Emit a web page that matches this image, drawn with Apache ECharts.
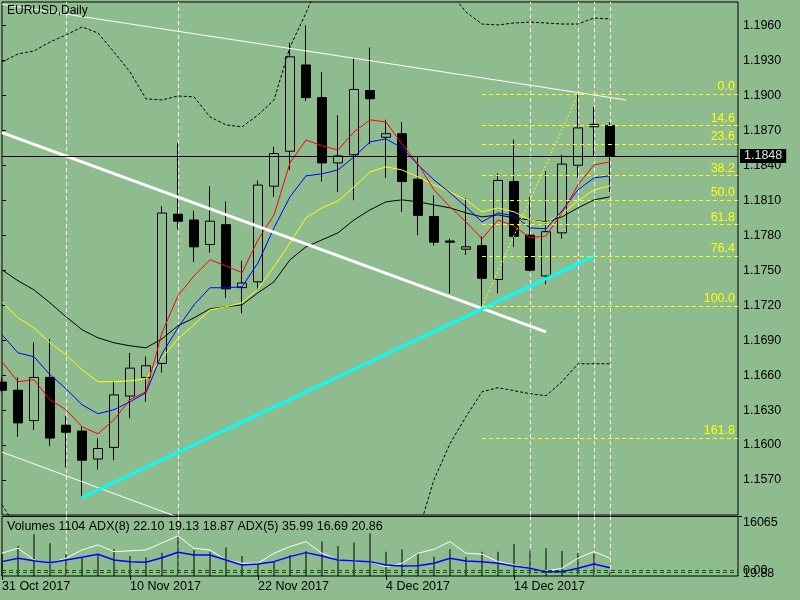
<!DOCTYPE html>
<html>
<head>
<meta charset="utf-8">
<script src="https://cdn.jsdelivr.net/npm/echarts@6/dist/echarts.min.js"></script>
<style>html,body{margin:0;padding:0;background:#8FBC8F;}#c{width:800px;height:600px;}</style>
</head>
<body>
<div id="c"></div>
<script>
const dates = ['31 Oct 2017','1 Nov 2017','2 Nov 2017','3 Nov 2017','6 Nov 2017','7 Nov 2017','8 Nov 2017','9 Nov 2017','10 Nov 2017','13 Nov 2017','14 Nov 2017','15 Nov 2017','16 Nov 2017','17 Nov 2017','20 Nov 2017','21 Nov 2017','22 Nov 2017','23 Nov 2017','24 Nov 2017','27 Nov 2017','28 Nov 2017','29 Nov 2017','30 Nov 2017','1 Dec 2017','4 Dec 2017','5 Dec 2017','6 Dec 2017','7 Dec 2017','8 Dec 2017','11 Dec 2017','12 Dec 2017','13 Dec 2017','14 Dec 2017','15 Dec 2017','18 Dec 2017','19 Dec 2017','20 Dec 2017','21 Dec 2017','22 Dec 2017','25 Dec 2017','26 Dec 2017','27 Dec 2017','28 Dec 2017','29 Dec 2017','1 Jan 2018','2 Jan 2018','3 Jan 2018'];
const dateLabelIdx = [0, 8, 16, 24, 32];
const vLineIdx = [4, 11, 33, 36, 37, 38];

const opens  = [1.1654,1.1647,1.1621,1.1658,1.1617,1.1612,1.1588,1.1598,1.1642,1.1658,1.1670,1.1798,1.1793,1.1772,1.1789,1.1735,1.1740,1.1822,1.1852,1.1926,1.1898,1.1842,1.1849,1.1904,1.1864,1.1867,1.1828,1.1796,1.1775,1.1768,1.1771,1.1742,1.1826,1.1780,1.1745,1.1782,1.1840,1.1873,1.1874];
const closes = [1.1647,1.1619,1.1658,1.1606,1.1611,1.1587,1.1597,1.1643,1.1666,1.1668,1.1799,1.1792,1.1770,1.1792,1.1734,1.1739,1.1823,1.1850,1.1933,1.1898,1.1842,1.1848,1.1905,1.1897,1.1867,1.1826,1.1797,1.1774,1.1774,1.1770,1.1743,1.1827,1.1779,1.1750,1.1783,1.1841,1.1872,1.1875,1.1848];
const lows   = [1.1645,1.1607,1.1613,1.1599,1.1581,1.1556,1.1579,1.1587,1.1623,1.1637,1.1662,1.1785,1.1757,1.1765,1.1726,1.1713,1.1733,1.1813,1.1836,1.1895,1.1826,1.1817,1.1810,1.1858,1.1829,1.1800,1.1780,1.1771,1.1730,1.1763,1.1718,1.1730,1.1770,1.1749,1.1738,1.1777,1.1829,1.1848,1.1817];
const highs  = [1.1658,1.1658,1.1688,1.1691,1.1625,1.1616,1.1606,1.1655,1.1679,1.1676,1.1805,1.1859,1.1801,1.1822,1.1809,1.1758,1.1827,1.1856,1.1945,1.1960,1.1920,1.1883,1.1932,1.1941,1.1879,1.1877,1.1847,1.1814,1.1777,1.1812,1.1779,1.1833,1.1862,1.1813,1.1835,1.1849,1.1901,1.1890,1.1877];

const maRed    = [1.16714,1.16543,1.16560,1.16389,1.16303,1.16157,1.16097,1.16217,1.16389,1.16457,1.16963,1.17280,1.17451,1.17589,1.17537,1.17477,1.17760,1.17974,1.18420,1.18617,1.18566,1.18531,1.18686,1.18789,1.18771,1.18583,1.18411,1.18189,1.18043,1.17914,1.17769,1.17931,1.17880,1.17777,1.17794,1.17991,1.18231,1.18403,1.18429];
const maBlue   = [1.16946,1.16791,1.16757,1.16603,1.16483,1.16346,1.16269,1.16303,1.16371,1.16449,1.16783,1.17006,1.17203,1.17349,1.17349,1.17357,1.17563,1.17863,1.18129,1.18309,1.18326,1.18360,1.18471,1.18600,1.18626,1.18549,1.18403,1.18274,1.18163,1.18043,1.17914,1.17991,1.17966,1.17863,1.17854,1.18009,1.18189,1.18291,1.18309];
const maYellow = [1.17229,1.17091,1.17006,1.16877,1.16774,1.16646,1.16543,1.16543,1.16551,1.16569,1.16749,1.16911,1.17031,1.17160,1.17186,1.17220,1.17340,1.17529,1.17734,1.17949,1.18034,1.18094,1.18214,1.18343,1.18386,1.18360,1.18300,1.18231,1.18171,1.18103,1.18000,1.18034,1.18000,1.17931,1.17906,1.17983,1.18094,1.18189,1.18223];
const maBlack  = [1.17503,1.17409,1.17331,1.17220,1.17100,1.16989,1.16920,1.16877,1.16851,1.16834,1.16911,1.17023,1.17091,1.17169,1.17186,1.17203,1.17306,1.17400,1.17589,1.17700,1.17760,1.17820,1.17931,1.18017,1.18086,1.18103,1.18086,1.18060,1.18034,1.17991,1.17957,1.17974,1.17949,1.17931,1.17914,1.17957,1.18034,1.18103,1.18129];
const bbUpper  = [1.19286,1.19354,1.19380,1.19457,1.19517,1.19586,1.19534,1.19371,1.19200,1.18969,1.18960,1.18994,1.18986,1.18814,1.18746,1.18729,1.18831,1.18960,1.19414,1.19706,1.20031,1.20203,1.20331,1.20417,1.20374,1.20288,1.20160,1.20006,1.19886,1.19714,1.19611,1.19603,1.19620,1.19628,1.19620,1.19611,1.19611,1.19663,1.19654];
const bbLower  = [1.15489,1.15274,1.15103,1.14974,1.14846,1.14674,1.14572,1.14546,1.14572,1.14632,1.14760,1.14863,1.14932,1.14974,1.14974,1.14932,1.14863,1.14760,1.14589,1.14332,1.14160,1.14092,1.14117,1.14246,1.14460,1.14803,1.15249,1.15703,1.16012,1.16243,1.16457,1.16492,1.16466,1.16440,1.16423,1.16543,1.16697,1.16697,1.16697];

const volumes  = [6000,8130,11300,8860,5960,5070,5960,7230,5420,5070,6310,10650,7040,6580,7670,5420,3520,4060,5690,6770,9290,8130,9020,11570,6580,7230,6150,5230,7230,5230,6580,6580,8670,6850,7500,6770,6310,6150,1104];
const adxWhite = [43.3,50.6,33.5,28.6,36.0,48.1,55.5,45.7,46.8,48.1,58.4,68.7,50.6,48.1,33.5,28.6,28.6,43.3,53.0,60.3,43.3,33.5,31.0,31.0,23.6,28.6,43.3,49.2,60.3,43.3,41.8,31.0,26.1,21.3,17.3,21.3,36.0,45.7,35.99];
const adxBlue  = [31.0,36.0,32.4,29.5,33.5,37.4,41.8,33.5,31.0,30.1,36.8,44.8,40.8,40.8,33.5,26.1,27.6,31.0,38.3,44.2,39.3,33.5,32.0,31.0,26.1,24.7,25.1,28.6,36.0,32.0,31.0,28.6,24.7,21.3,16.3,16.3,21.3,27.6,22.10];
const adxLevels = [18, 15];

const trendTop   = [[0, 1.1978], [39, 1.1896]];
const trendThick = [[0, 1.1868], [34, 1.1697]];
const trendLow   = [[0, 1.1594], [12, 1.1533]];
const trendCyan  = [[5, 1.1555], [37, 1.1762]];
const fibDiag    = [[30, 1.1719], [36, 1.1901]];
const fibNames   = ['0.0','14.6','23.6','38.2','50.0','61.8','76.4','100.0','161.8'];
const fibPrices  = [1.1901,1.1874,1.1858,1.1831,1.1810,1.1789,1.1762,1.1719,1.1606];
const fibStart = 30, fibEnd = 46;
const lastClose = 1.1848;
const chartTitle = 'EURUSD,Daily';
const indLabel = 'Volumes 1104 ADX(8) 22.10 19.13 18.87 ADX(5) 35.99 16.69 20.86';

const FONT = 'Liberation Sans';
const BG = '#8FBC8F';
const chart = echarts.init(document.getElementById('c'));
const candleData = opens.map((o, i) => [o, closes[i], lows[i], highs[i]]);

function maLine(data, color, dash) {
  return {type: 'line', data, xAxisIndex: 0, yAxisIndex: 0, symbol: 'none', silent: true, z: 3,
    lineStyle: {color, width: 1, type: dash || 'solid'}};
}
function trend(data, color, width) {
  return {type: 'line', data, xAxisIndex: 2, yAxisIndex: 0, symbol: 'none', silent: true, z: 4,
    lineStyle: {color, width}};
}
const vStyle = {color: '#ffffff', width: 1, type: [4, 3]};

const option = {
  backgroundColor: BG,
  animation: false,
  textStyle: {fontFamily: FONT},
  title: [
    {text: chartTitle, left: 7, top: 5, padding: 0, textStyle: {fontSize: 12, fontWeight: 'normal', color: '#000', fontFamily: FONT}},
    {text: indLabel, left: 7, top: 520, padding: 0, textStyle: {fontSize: 12.5, fontWeight: 'normal', color: '#000', fontFamily: FONT}}
  ],
  grid: [
    {left: 2, top: 2, width: 736, height: 513, show: true, borderColor: '#000', borderWidth: 1, backgroundColor: 'transparent', outerBoundsMode: 'none'},
    {left: 2, top: 516.5, width: 736, height: 59.5, show: true, borderColor: '#000', borderWidth: 1, backgroundColor: 'transparent', outerBoundsMode: 'none'}
  ],
  xAxis: [
    {type: 'category', gridIndex: 0, data: dates, boundaryGap: false, axisLine: {show: false}, axisTick: {show: false}, axisLabel: {show: false}, splitLine: {show: false}},
    {type: 'category', gridIndex: 1, data: dates, boundaryGap: false, axisLine: {show: false},
      axisTick: {show: true, length: 4, interval: (i) => dateLabelIdx.includes(i), lineStyle: {color: '#000'}},
      axisLabel: {interval: (i) => dateLabelIdx.includes(i), align: 'left', margin: 4, color: '#000', fontSize: 12.5, fontFamily: FONT},
      splitLine: {show: false}},
    {type: 'value', gridIndex: 0, min: 0, max: 46, show: false, splitLine: {show: false}}
  ],
  yAxis: [
    {type: 'value', gridIndex: 0, position: 'right', min: 1.1540, max: 1.1980, interval: 0.003,
      axisLine: {show: false}, axisTick: {show: true, length: 4, lineStyle: {color: '#000'}},
      axisLabel: {color: '#000', fontSize: 12.5, fontFamily: FONT, margin: 5, formatter: (v) => v.toFixed(4), showMinLabel: false, showMaxLabel: false},
      splitLine: {show: false}},
    {type: 'value', gridIndex: 1, position: 'right', min: 0, max: 16065, interval: 16065,
      axisLine: {show: false}, axisTick: {show: true, length: 4, lineStyle: {color: '#000'}},
      axisLabel: {color: '#000', fontSize: 12.5, fontFamily: FONT, margin: 5, verticalAlign: 'top', showMinLabel: false, formatter: (v) => String(Math.round(v))},
      splitLine: {show: false}},
    {type: 'value', gridIndex: 1, min: 10, max: 97, show: false, splitLine: {show: false}}
  ],
  graphic: [
    {type: 'text', x: 743, y: 564, silent: true, style: {text: '0.00', fill: '#000', font: '12.5px "Liberation Sans"'}},
    {type: 'text', x: 743, y: 567, silent: true, style: {text: '19.88', fill: '#000', font: '12.5px "Liberation Sans"'}}
  ],
  series: [
    {type: 'line', data: [], xAxisIndex: 2, yAxisIndex: 0, z: 1, silent: true,
      markLine: {z: 1, symbol: ['none', 'none'], silent: true, animation: false, label: {show: false}, lineStyle: vStyle,
        data: vLineIdx.map(i => ({xAxis: i}))}},
    {type: 'line', data: [], xAxisIndex: 1, yAxisIndex: 1, z: 1, silent: true,
      markLine: {z: 1, symbol: ['none', 'none'], silent: true, animation: false, label: {show: false}, lineStyle: vStyle,
        data: vLineIdx.map(i => ({xAxis: i}))}},
    {type: 'candlestick', data: candleData, xAxisIndex: 0, yAxisIndex: 0, barWidth: 9, z: 2, silent: true,
      itemStyle: {color: BG, color0: '#000', borderColor: '#000', borderColor0: '#000', borderColorDoji: '#000', borderWidth: 1}},
    maLine(bbUpper, '#000', [3, 2]),
    maLine(bbLower, '#000', [3, 2]),
    maLine(maBlack, '#000'),
    maLine(maYellow, '#ffff00'),
    maLine(maBlue, '#0000ff'),
    Object.assign(maLine(maRed, '#ff0000'), {
      markLine: {symbol: ['none', 'none'], silent: true, animation: false, precision: 6,
        lineStyle: {color: '#000', width: 1, type: 'solid'},
        label: {show: true, position: 'end', distance: 2, formatter: lastClose.toFixed(4), backgroundColor: '#000', color: '#d2ead2', padding: [1, 4, 0, 4], fontSize: 12.5, fontFamily: FONT},
        data: [{yAxis: lastClose}]}
    }),
    trend(trendTop, '#ffffff', 1),
    trend(trendThick, '#ffffff', 3),
    trend(trendLow, '#ffffff', 1),
    trend(trendCyan, '#00ffff', 3),
    {type: 'line', data: fibDiag, xAxisIndex: 2, yAxisIndex: 0, symbol: 'none', silent: true, z: 4,
      lineStyle: {color: '#ffff00', width: 1, type: [2, 2]},
      markLine: {symbol: ['none', 'none'], silent: true, animation: false, precision: 6,
        lineStyle: {color: '#ffff00', width: 1, type: [4, 3]},
        label: {show: true, position: 'insideEndTop', distance: [3, 1], formatter: '{b}', color: '#ffff00', fontSize: 12.5, fontFamily: FONT},
        data: fibPrices.map((p, i) => [{name: fibNames[i], coord: [fibStart, p]}, {name: fibNames[i], coord: [fibEnd, p]}])}},
    {type: 'bar', data: volumes, xAxisIndex: 1, yAxisIndex: 1, barWidth: 1, silent: true, z: 2,
      itemStyle: {color: '#000'}},
    {type: 'line', data: adxWhite, xAxisIndex: 1, yAxisIndex: 2, symbol: 'none', silent: true, z: 3,
      lineStyle: {color: '#ffffff', width: 1}},
    {type: 'line', data: adxBlue, xAxisIndex: 1, yAxisIndex: 2, symbol: 'none', silent: true, z: 3,
      lineStyle: {color: '#0000ff', width: 1.5},
      markLine: {symbol: ['none', 'none'], silent: true, animation: false, label: {show: false},
        lineStyle: {color: '#006400', width: 1, type: [4, 3]},
        data: adxLevels.map(v => ({yAxis: v}))}}
  ]
};
chart.setOption(option);
</script>
</body>
</html>
